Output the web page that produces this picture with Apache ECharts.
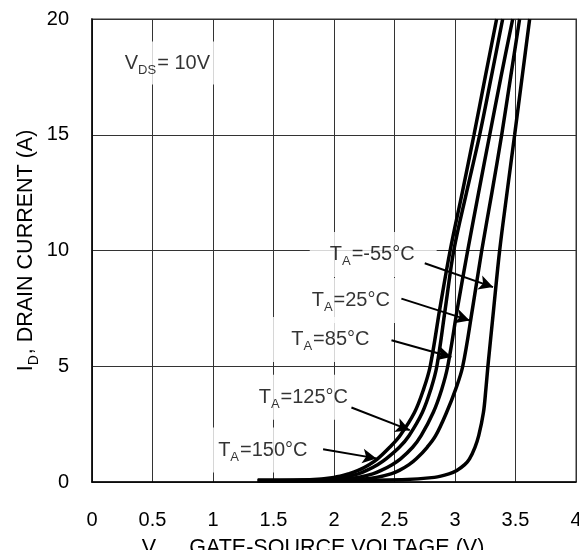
<!DOCTYPE html>
<html><head><meta charset="utf-8">
<script src="https://cdn.jsdelivr.net/npm/echarts@6/dist/echarts.min.js"></script>
<style>html,body{margin:0;padding:0;background:#fff}#c{width:579px;height:550px}</style>
</head><body><div id="c"></div>
<script>
// Drain current levels (A) shared by all curves
const currentLevels = [0.06, 0.1, 0.2, 0.35, 0.5, 0.75, 1, 1.5, 2, 3, 4, 5, 7.5, 10, 12.5, 15, 17.5, 20];
// Gate-source voltage (V) at each current level, per ambient temperature
const vgs150 = [1.37, 1.80, 2.00, 2.12, 2.20, 2.29, 2.36, 2.46, 2.545, 2.665, 2.74, 2.795, 2.875, 2.96, 3.06, 3.157, 3.25, 3.344];
const vgs125 = [1.37, 1.88, 2.08, 2.20, 2.27, 2.36, 2.43, 2.54, 2.62, 2.73, 2.80, 2.85, 2.92, 2.99, 3.095, 3.204, 3.30, 3.394];
const vgs85  = [1.37, 2.00, 2.20, 2.32, 2.39, 2.48, 2.55, 2.65, 2.72, 2.82, 2.89, 2.94, 3.02, 3.105, 3.195, 3.287, 3.38, 3.477];
const vgs25  = [1.37, 2.15, 2.35, 2.47, 2.54, 2.62, 2.68, 2.77, 2.84, 2.93, 3.005, 3.064, 3.145, 3.221, 3.305, 3.386, 3.46, 3.534];
const vgsM55 = [1.37, 2.56, 2.83, 2.95, 3.015, 3.08, 3.12, 3.165, 3.196, 3.235, 3.255, 3.272, 3.32, 3.369, 3.43, 3.493, 3.555, 3.617];
const curveNames = ['150', '125', '85', '25', '-55'];
const curves = [vgs150, vgs125, vgs85, vgs25, vgsM55];

// Axis ticks
const xMin = 0, xMax = 4, xStep = 0.5;
const yMin = 0, yMax = 20, yStep = 5;

// Annotation texts and their anchor positions (V, A)
const labelTexts = ['{m|T}{s|A}{m|=-55°C}', '{m|T}{s|A}{m|=25°C}', '{m|T}{s|A}{m|=85°C}', '{m|T}{s|A}{m|=125°C}', '{m|T}{s|A}{m|=150°C}', '{m|V}{s|DS}{m|= 10V}'];
const labelV = [2.324, 2.147, 1.978, 1.755, 1.420, 0.623];
const labelI = [9.83, 7.84, 6.16, 3.66, 1.38, 18.1];
// Arrows: start (V, A) -> tip (V, A)
const arrowFromV = [2.75, 2.557, 2.475, 2.144, 1.91];
const arrowFromI = [9.45, 7.92, 6.12, 3.22, 1.41];
const arrowToV = [3.314, 3.121, 2.97, 2.626, 2.351];
const arrowToI = [8.42, 6.98, 5.40, 2.24, 1.02];

const FONT = 'Liberation Sans, Arial, sans-serif';
const rich = {
  m: {fontSize: 20, fontFamily: FONT, color: '#000'},
  s: {fontSize: 13, fontFamily: FONT, color: '#000', padding: [14, 1, 0, 0]}
};
const richName = {
  m: {fontSize: 21.5, fontFamily: FONT, color: '#000'},
  s: {fontSize: 14, fontFamily: FONT, color: '#000', padding: [15, 1, 0, 0]}
};

const chart = echarts.init(document.getElementById('c'), null, {renderer: 'canvas'});

const series = curves.map((v, k) => ({
  name: curveNames[k],
  type: 'line',
  z: 3,
  data: currentLevels.map((I, i) => [v[i], I]),
  showSymbol: false,
  smooth: 0.35,
  lineStyle: {color: '#000', width: 3.5},
  clip: true
}));

series.push({
  type: 'scatter',
  z: 2,
  symbolSize: 0,
  data: labelV.map((v, i) => ({
    value: [v, labelI[i]],
    label: i === 5 ? {padding: [8, 6, 8, 6]} : {padding: [9, 22, 9, 20]}
  })),
  label: {
    show: true,
    position: 'inside',
    backgroundColor: '#fff',
    formatter: p => labelTexts[p.dataIndex],
    rich: rich
  },
  silent: true
});

series.push({
  type: 'line',
  z: 4,
  data: [],
  markLine: {
    silent: true,
    symbol: ['none', 'arrow'],
    symbolSize: [11, 14],
    label: {show: false},
    lineStyle: {color: '#000', width: 2, type: 'solid'},
    data: arrowFromV.map((v, i) => [
      {coord: [v, arrowFromI[i]]},
      {coord: [arrowToV[i], arrowToI[i]]}
    ])
  }
});

chart.setOption({
  animation: false,
  backgroundColor: '#fff',
  grid: {left: 92, right: 3, top: 19, bottom: 68, show: true, borderColor: '#999', borderWidth: 2, outerBoundsMode: 'none', containLabel: false},
  xAxis: {
    type: 'value', min: xMin, max: xMax, interval: xStep,
    axisLine: {show: true, onZero: false, lineStyle: {color: '#000', width: 1.5}},
    axisTick: {show: false},
    splitLine: {show: true, lineStyle: {color: '#333', width: 1}},
    axisLabel: {color: '#000', fontSize: 20, fontFamily: FONT, margin: 28},
    name: '{m|V}{s|GS}{m|, GATE-SOURCE VOLTAGE (V)}',
    nameLocation: 'middle',
    nameGap: 52,
    nameMoveOverlap: false,
    nameTextStyle: {rich: richName, padding: [0, 42, 0, 0]}
  },
  yAxis: {
    type: 'value', min: yMin, max: yMax, interval: yStep,
    axisLine: {show: true, onZero: false, lineStyle: {color: '#000', width: 1.5}},
    axisTick: {show: false},
    splitLine: {show: true, lineStyle: {color: '#333', width: 1}},
    axisLabel: {color: '#000', fontSize: 20, fontFamily: FONT, margin: 23},
    name: '{m|I}{s|D}{m|, DRAIN CURRENT (A)}',
    nameLocation: 'middle',
    nameGap: 51,
    nameMoveOverlap: false,
    nameTextStyle: {rich: richName}
  },
  series: series
});
</script></body></html>
